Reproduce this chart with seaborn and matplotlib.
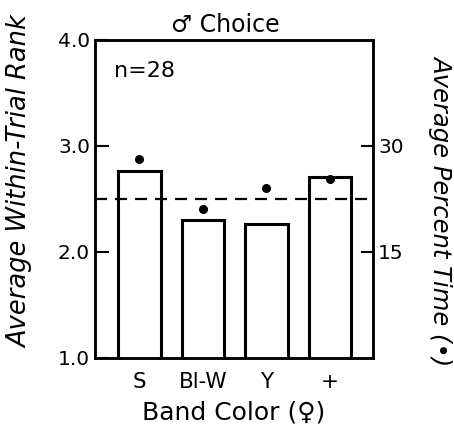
import matplotlib
matplotlib.use("Agg")
import matplotlib.pyplot as plt
import seaborn as sns

# data
bands = ["S", "Bl-W", "Y", "+"]
rank = [2.76, 2.30, 2.26, 2.71]          # bars, left axis
pct_time = [28.2, 21.0, 24.1, 25.3]      # dots, right axis
chance = 2.5

sns.set_style("ticks")
plt.rcParams["font.family"] = ["DejaVu Sans"]
plt.rcParams.update({
    "text.color": "black",
    "axes.labelcolor": "black",
    "axes.edgecolor": "black",
    "xtick.color": "black",
    "ytick.color": "black",
})

fig, ax = plt.subplots(figsize=(4.54, 4.25), dpi=100)
fig.subplots_adjust(left=0.209, right=0.822, top=0.906, bottom=0.158)

sns.barplot(x=bands, y=rank, color="white", edgecolor="black",
            linewidth=2.2, width=0.67, ax=ax)
ax.axhline(chance, color="black", lw=1.6, ls=(0, (5.4, 3.6)))

ax2 = ax.twinx()
sns.stripplot(x=bands, y=pct_time, jitter=False, color="black", size=6.5,
              ax=ax2, zorder=5)

ax.set_ylim(1.0, 4.0)
ax2.set_ylim(0, 45)
ax.set_xlim(-0.70, 3.68)

ax.set_yticks([1.0, 2.0, 3.0, 4.0])
ax.set_yticklabels(["1.0", "2.0", "3.0", "4.0"])
ax2.set_yticks([15, 30])
ax.tick_params(axis="y", direction="in", length=10, width=1.5, labelsize=14.5)
ax2.tick_params(axis="y", direction="in", length=9, width=1.5, labelsize=14.5)
ax.tick_params(axis="x", length=0, labelsize=15.5, pad=10)
ax.set_xticks(range(len(bands)))
ax.set_xticklabels(["S", "Bl-W", "Y", "+"])

for a in (ax, ax2):
    for s in a.spines.values():
        s.set_linewidth(1.8)
        s.set_color("black")
        s.set_visible(True)

ax.set_ylabel("Average Within-Trial Rank", fontsize=18.5, style="italic")
ax.yaxis.set_label_coords(-0.268, 0.553)
ax.yaxis.label.set_va("center")
ax2.set_ylabel("Average Percent Time (\u2022)", fontsize=17.5, style="italic",
               rotation=270)
ax2.yaxis.set_label_coords(1.245, 0.465)
ax2.yaxis.label.set_va("center")
ax.set_xlabel("Band Color (\u2640)", fontsize=18, labelpad=6)
ax.set_title("\u2642 Choice", fontsize=17, pad=6, x=0.47)
ax.text(0.07, 0.935, "n=28", transform=ax.transAxes, fontsize=16,
        va="top", ha="left")

fig.savefig("out.png", dpi=100)
